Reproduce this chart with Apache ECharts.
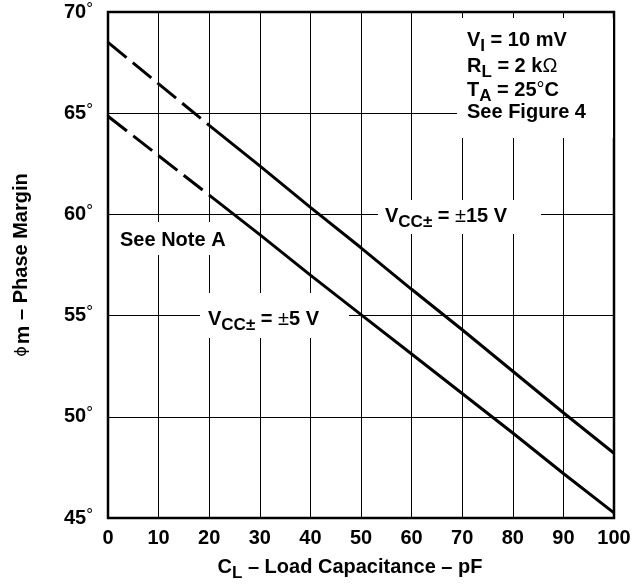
<!DOCTYPE html>
<html>
<head>
<meta charset="utf-8">
<script src="https://cdn.jsdelivr.net/npm/echarts@6/dist/echarts.min.js"></script>
<style>html,body{margin:0;padding:0;background:#fff}#c{width:638px;height:584px}</style>
</head>
<body>
<div id="c"></div>
<script>
// Load capacitance (pF)
const capX = [0, 10, 20, 30, 40, 50, 60, 70, 80, 90, 100];
// Phase margin (degrees) for VCC = ±15 V
const pm15 = [68.5, 66.45, 64.4, 62.4, 60.35, 58.35, 56.3, 54.3, 52.25, 50.2, 48.2];
// Phase margin (degrees) for VCC = ±5 V
const pm5 = [64.85, 62.9, 60.95, 59.0, 57.0, 55.05, 53.1, 51.15, 49.2, 47.2, 45.25];
// index where the curves change from dashed (extrapolated) to solid
const solidFrom = 2;
const xTicks = [0, 10, 20, 30, 40, 50, 60, 70, 80, 90, 100];
const yTicks = [45, 50, 55, 60, 65, 70];

const FF = '"Liberation Sans", Arial, Helvetica, sans-serif';
const pair = (xs, ys) => xs.map((x, i) => [x, ys[i]]);
const dashPart = (xs, ys) => pair(xs, ys).slice(0, solidFrom + 1);
const solidPart = (xs, ys) => pair(xs, ys).slice(solidFrom);

const lineStyle = (type) => ({ color: '#000', width: 3, type: type });
const mk = (name, data, type) => ({
  name, type: 'line', data, symbol: 'none', z: 3,
  lineStyle: lineStyle(type), animation: false
});

const big = { fontFamily: FF, fontWeight: 'bold', fontSize: 20, color: '#000' };
const subS = { fontFamily: FF, fontWeight: 'bold', fontSize: 17, color: '#000', padding: [12, 0, 0, 0] };
const thin = { fontFamily: FF, fontWeight: 'normal', fontSize: 20, color: '#000' };
const thinSub = { fontFamily: FF, fontWeight: 'normal', fontSize: 17, color: '#000', padding: [12, 0, 0, 0] };
const rich = { b: big, s: subS, t: thin, ts: thinSub };

function txt(x, y, text) {
  return {
    type: 'text', x: x, y: y, z: 4,
    style: { text: text, rich: rich, fill: '#000', font: 'bold 20px ' + FF, textVerticalAlign: 'middle', textAlign: 'left' }
  };
}
function box(x, y, w, h) {
  return { type: 'rect', z: 1, shape: { x: x, y: y, width: w, height: h }, style: { fill: '#fff' } };
}

const chart = echarts.init(document.getElementById('c'), null, { renderer: 'canvas' });
chart.setOption({
  animation: false,
  backgroundColor: '#fff',
  grid: { left: 108, top: 12, right: 24, bottom: 66, containLabel: false, outerBoundsMode: 'none',
    show: true, borderColor: '#000', borderWidth: 2.5, backgroundColor: 'transparent' },
  xAxis: {
    type: 'value', min: 0, max: 100, interval: 10,
    axisLine: { show: false }, axisTick: { show: false },
    splitLine: { show: true, lineStyle: { color: '#000', width: 1 } },
    axisLabel: { margin: 10, fontFamily: FF, fontWeight: 'bold', fontSize: 20, color: '#000',
      customValues: xTicks },
    name: '{b|C}{s|L}{b| – Load Capacitance – pF}',
    nameLocation: 'middle', nameGap: 35,
    nameTextStyle: { rich: { b: big, s: subS }, padding: [0, 22, 0, 0] }
  },
  yAxis: {
    type: 'value', min: 45, max: 70, interval: 5,
    axisLine: { show: false }, axisTick: { show: false },
    splitLine: { show: true, lineStyle: { color: '#000', width: 1 } },
    axisLabel: {
      margin: 15, formatter: v => '{n|' + v + '}{d|°}',
      rich: {
        n: { fontFamily: FF, fontWeight: 'bold', fontSize: 20, color: '#000' },
        d: { fontFamily: FF, fontWeight: 'normal', fontSize: 17, color: '#000', padding: [0, 0, 6, 0] }
      }
    },
    name: '{p|ϕ}{m|m}{b| – Phase Margin}',
    nameLocation: 'middle', nameGap: 74, nameRotate: 90,
    nameTextStyle: { rich: {
      p: { fontFamily: '"DejaVu Sans", sans-serif', fontSize: 16, color: '#000', padding: [0, 2, 0, 0] },
      m: { fontFamily: FF, fontWeight: 'bold', fontSize: 21, color: '#000', padding: [4, 0, 0, 0] },
      b: big } }
  },
  series: [
    mk('±15 V dashed', dashPart(capX, pm15), [24, 8]),
    mk('±15 V', solidPart(capX, pm15), 'solid'),
    mk('±5 V dashed', dashPart(capX, pm5), [24, 8]),
    mk('±5 V', solidPart(capX, pm5), 'solid')
  ],
  graphic: [
    box(457, 18, 156, 120),
    box(378, 200, 163, 34),
    box(200, 293, 149, 45),
    box(112, 222, 128, 33),
    txt(467, 40, '{b|V}{s|I}{b| = 10 mV}'),
    txt(467, 66, '{b|R}{s|L}{b| = 2 k}{t|Ω}'),
    txt(467, 90, '{b|T}{s|A}{b| = 25}{t|°}{b|C}'),
    txt(467, 112, '{b|See Figure 4}'),
    txt(385, 216, '{b|V}{s|CC±}{b| = }{t|±}{b|15 V}'),
    txt(208, 319, '{b|V}{s|CC±}{b| = }{t|±}{b|5 V}'),
    txt(120, 240, '{b|See Note A}')
  ]
});
</script>
</body>
</html>
